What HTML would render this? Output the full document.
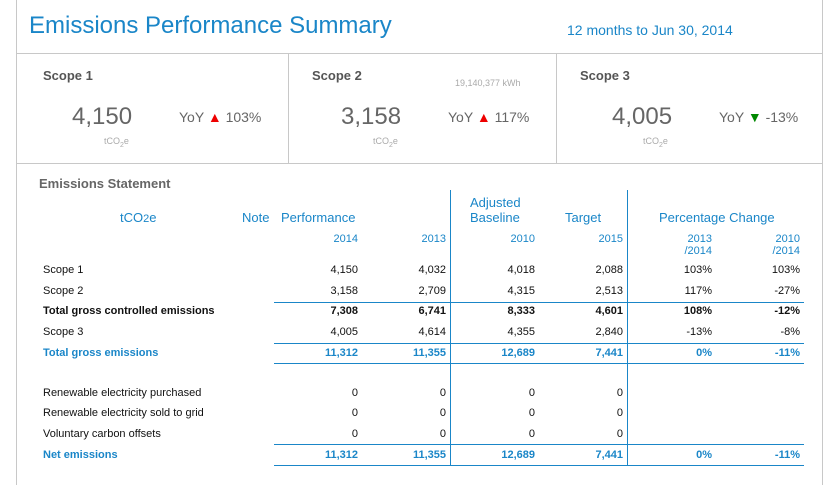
<!DOCTYPE html>
<html><head><meta charset="utf-8"><style>
*{margin:0;padding:0;box-sizing:border-box}
body{width:829px;height:485px;background:#fff;font-family:"Liberation Sans",sans-serif;position:relative;overflow:hidden}
.a{position:absolute;white-space:nowrap}
.r{text-align:right}
.c{text-align:center}
.t{font-size:11px;color:#111}
.b{font-weight:bold}
.bl{color:#1a86c8}
.hl{position:absolute;height:1px;background:#1a86c8;left:274px;width:530px}
.vl{position:absolute;width:1px;background:#1a86c8;top:190px;height:276px}
.g{position:absolute;background:#c8c8c8}
</style></head><body>
<div class="g" style="left:16px;top:0;width:1px;height:485px"></div>
<div class="g" style="left:822px;top:0;width:1px;height:485px"></div>
<div class="g" style="left:17px;top:53px;width:805px;height:1px"></div>
<div class="g" style="left:17px;top:163px;width:805px;height:1px"></div>
<div class="g" style="left:288px;top:53px;width:1px;height:110px"></div>
<div class="g" style="left:556px;top:53px;width:1px;height:110px"></div>

<div class="a bl" style="left:29px;top:12px;font-size:24px;color:#1a86c8">Emissions Performance Summary</div>
<div class="a bl" style="left:567px;top:22px;font-size:14px">12 months to Jun 30, 2014</div>

<div class="a b" style="left:43px;top:68px;font-size:13px;color:#555">Scope 1</div>
<div class="a b" style="left:312px;top:68px;font-size:13px;color:#555">Scope 2</div>
<div class="a b" style="left:580px;top:68px;font-size:13px;color:#555">Scope 3</div>
<div class="a" style="left:455px;top:78px;font-size:9px;color:#aaa">19,140,377 kWh</div>

<div class="a" style="left:72px;top:103px;font-size:24px;color:#666">4,150</div>
<div class="a" style="left:341px;top:103px;font-size:24px;color:#666">3,158</div>
<div class="a" style="left:612px;top:103px;font-size:24px;color:#666">4,005</div>
<div class="a" style="left:179px;top:109px;font-size:14px;color:#666">YoY <span style="color:#e00">▲</span> 103%</div>
<div class="a" style="left:448px;top:109px;font-size:14px;color:#666">YoY <span style="color:#e00">▲</span> 117%</div>
<div class="a" style="left:719px;top:109px;font-size:14px;color:#666">YoY <span style="color:#080">▼</span> -13%</div>
<div class="a" style="left:104px;top:136px;font-size:9px;color:#aaa">tCO<sub style="font-size:7px">2</sub>e</div>
<div class="a" style="left:373px;top:136px;font-size:9px;color:#aaa">tCO<sub style="font-size:7px">2</sub>e</div>
<div class="a" style="left:643px;top:136px;font-size:9px;color:#aaa">tCO<sub style="font-size:7px">2</sub>e</div>

<div class="a b" style="left:39px;top:176px;font-size:13px;color:#666">Emissions Statement</div>
<div class="a bl" style="left:120px;top:210px;font-size:13px">tCO<span style="font-size:11px">2</span>e</div>
<div class="a bl" style="left:242px;top:210px;font-size:13px">Note</div>
<div class="a bl" style="left:281px;top:210px;font-size:13px">Performance</div>
<div class="a bl" style="left:470px;top:195px;font-size:13px;line-height:15px">Adjusted<br>Baseline</div>
<div class="a bl" style="left:565px;top:210px;font-size:13px">Target</div>
<div class="a bl" style="left:659px;top:210px;font-size:13px">Percentage Change</div>

<div class="vl" style="left:450px"></div>
<div class="vl" style="left:627px"></div>
<div class="hl" style="top:302px"></div>
<div class="hl" style="top:343px"></div>
<div class="hl" style="top:363px"></div>
<div class="hl" style="top:444px"></div>
<div class="hl" style="top:465px"></div>

<div id="rows"></div>
<script>
var R=[358,446,535,623,712,800];
function cell(x,y,t,cls){var d=document.createElement('div');d.className='a r '+cls;d.style.right=(829-x)+'px';d.style.top=y+'px';d.innerHTML=t;document.body.appendChild(d);}
function lab(y,t,cls){var d=document.createElement('div');d.className='a t '+cls;d.style.left='43px';d.style.top=y+'px';d.textContent=t;document.body.appendChild(d);}
var hy=233;
['2014','2013','2010','2015','2013<br>/2014','2010<br>/2014'].forEach(function(t,i){cell(R[i],hy,t,'bl');});
document.querySelectorAll('.bl.r').forEach(function(e){e.style.fontSize='11px';e.style.lineHeight='12px';});
var rows=[
[264,'Scope 1',['4,150','4,032','4,018','2,088','103%','103%'],''],
[285,'Scope 2',['3,158','2,709','4,315','2,513','117%','-27%'],''],
[305,'Total gross controlled emissions',['7,308','6,741','8,333','4,601','108%','-12%'],'b'],
[326,'Scope 3',['4,005','4,614','4,355','2,840','-13%','-8%'],''],
[347,'Total gross emissions',['11,312','11,355','12,689','7,441','0%','-11%'],'b bl'],
[387,'Renewable electricity purchased',['0','0','0','0'],''],
[407,'Renewable electricity sold to grid',['0','0','0','0'],''],
[428,'Voluntary carbon offsets',['0','0','0','0'],''],
[449,'Net emissions',['11,312','11,355','12,689','7,441','0%','-11%'],'b bl']];
rows.forEach(function(r){lab(r[0],r[1],r[3]);r[2].forEach(function(v,i){cell(i<4?R[i]:R[i],r[0],v,'t '+r[3]);});});
document.querySelectorAll('.t.bl').forEach(function(e){e.style.color='#1a86c8';});
</script>
</body></html>
